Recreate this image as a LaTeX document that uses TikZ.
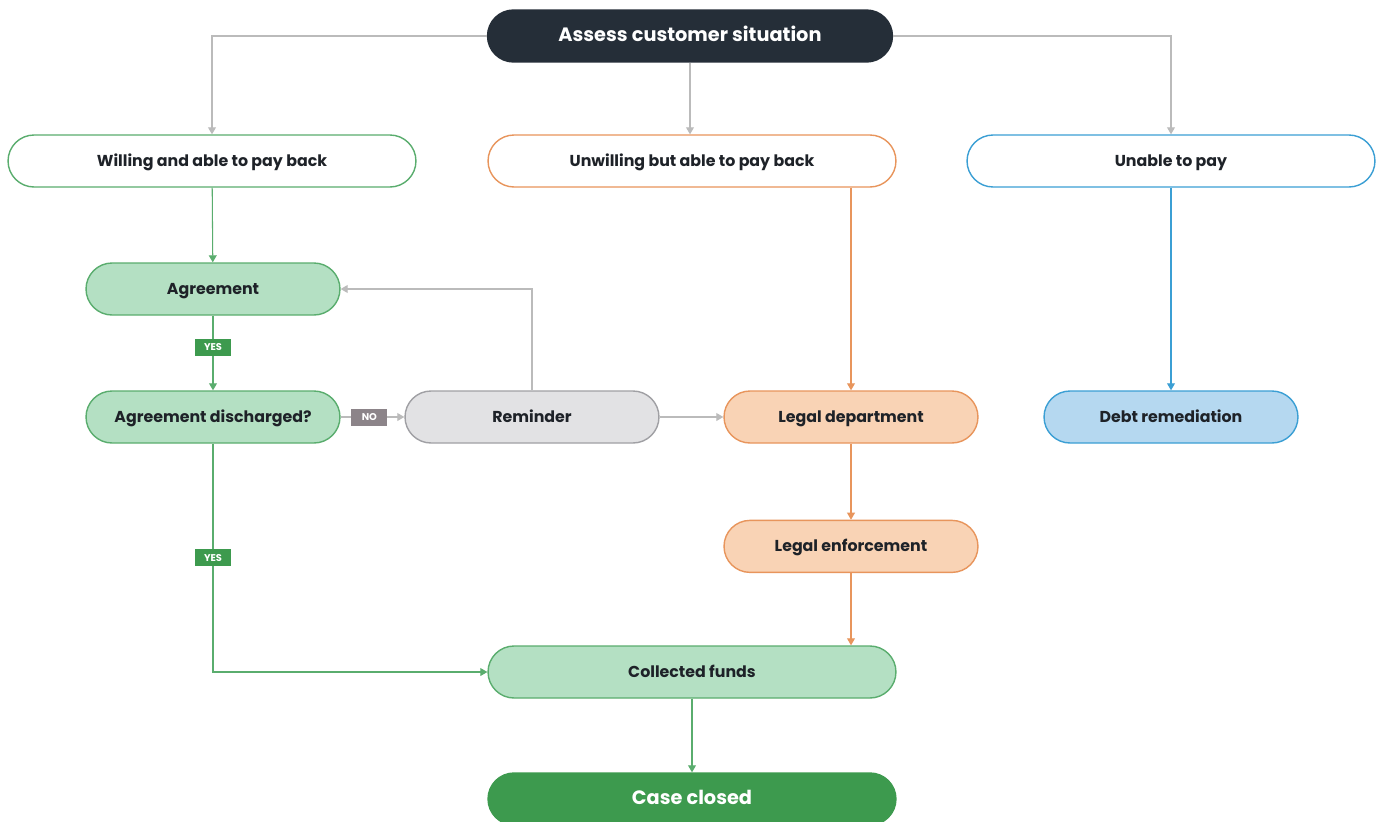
\documentclass[tikz,border=0pt]{standalone}
\usepackage{fontspec}
\setmainfont{Poppins}
\usetikzlibrary{positioning}
\usetikzlibrary{arrows.meta}

\definecolor{inkdark}{HTML}{252E38}
\definecolor{txtdark}{HTML}{1E2228}
\definecolor{grnline}{HTML}{5AAD6E}
\definecolor{grnfill}{HTML}{B4E0C3}
\definecolor{grndark}{HTML}{3D9A4E}
\definecolor{orgline}{HTML}{E8955C}
\definecolor{orgfill}{HTML}{F9D3B5}
\definecolor{bluline}{HTML}{3B9FD4}
\definecolor{blufill}{HTML}{B5D8F0}
\definecolor{gryline}{HTML}{A0A0A4}
\definecolor{gryfill}{HTML}{E2E2E4}
\definecolor{gryarrow}{HTML}{BBBBBB}
\definecolor{nofill}{HTML}{8C8489}

\begin{document}
\begin{tikzpicture}[x=0.02cm,y=-0.02cm,
	box/.style={draw, rounded corners=0.52cm, minimum height=1.04cm, line width=0.8pt,
		text height=1.5ex, text depth=0.35ex,
		font=\bfseries\fontsize{9}{11}\selectfont, text=txtdark},
	wide/.style={box, minimum width=8.16cm},
	narrow/.style={box, minimum width=5.08cm},
	link/.style={line width=0.6pt, -{Triangle[length=4pt,width=4.5pt]}},
	tag/.style={inner sep=0pt, minimum width=0.72cm, minimum height=0.34cm,
		text=white, font=\bfseries\fontsize{5.6}{6}\selectfont}]
		\fill[white] (0,0) rectangle (1384,822);
		\useasboundingbox (0,0) rectangle (1384,822);
		% top
		\node[wide, minimum width=8.1cm, fill=inkdark, draw=inkdark, text=white,
			font=\bfseries\fontsize{11}{13}\selectfont] (assess) at (690,36) {Assess customer situation};
		\node[wide, draw=grnline, fill=white] (willing) at (212,161) {Willing and able to pay back};
		\node[wide, draw=orgline, fill=white] (unwilling) at (692,161) {Unwilling but able to pay back};
		\node[wide, draw=bluline, fill=white] (unable) at (1171,161) {Unable to pay};
		% middle
		\node[narrow, draw=grnline, fill=grnfill] (agree) at (213,289) {Agreement};
		\node[narrow, draw=grnline, fill=grnfill] (disch) at (213,417) {Agreement discharged?};
		\node[narrow, draw=gryline, fill=gryfill] (remind) at (532,417) {Reminder};
		\node[narrow, draw=orgline, fill=orgfill] (legal) at (851,417) {Legal department};
		\node[narrow, draw=bluline, fill=blufill] (debt) at (1171,417) {Debt remediation};
		\node[narrow, draw=orgline, fill=orgfill, below=1.52cm of legal] (enforce) {Legal enforcement};
		% bottom
		\node[wide, draw=grnline, fill=grnfill] (funds) at (692,672) {Collected funds};
		\node[wide, draw=grndark, fill=grndark, text=white,
			font=\bfseries\fontsize{11}{13}\selectfont] (closed) at (692,799) {Case closed};
		% connectors
		\draw[link, gryarrow] (assess.west) -| (willing.north);
		\draw[link, gryarrow] (assess.south) -- (assess.south |- unwilling.north);
		\draw[link, gryarrow] (assess.east) -| (unable.north);
		\draw[link, grnline] (willing) -- (agree);
		\draw[link, grnline] (agree) -- node[tag, fill=grndark, pos=0.42]{YES} (disch);
		\draw[link, gryarrow] (disch) -- node[tag, fill=nofill, pos=0.45]{NO} (remind);
		\draw[link, gryarrow] (remind.north) |- (agree.east);
		\draw[link, gryarrow] (remind) -- (legal);
		\draw[link, orgline] (unwilling.south -| legal.north) -- (legal.north);
		\draw[link, orgline] (legal) -- (enforce);
		\draw[link, orgline] (enforce.south) -- (enforce.south |- funds.north);
		\draw[link, grnline] (disch.south) |- node[tag, fill=grndark, pos=0.25]{YES} (funds.west);
		\draw[link, bluline] (unable) -- (debt);
		\draw[link, grnline] (funds) -- (closed);
	\end{tikzpicture}
\end{document}
